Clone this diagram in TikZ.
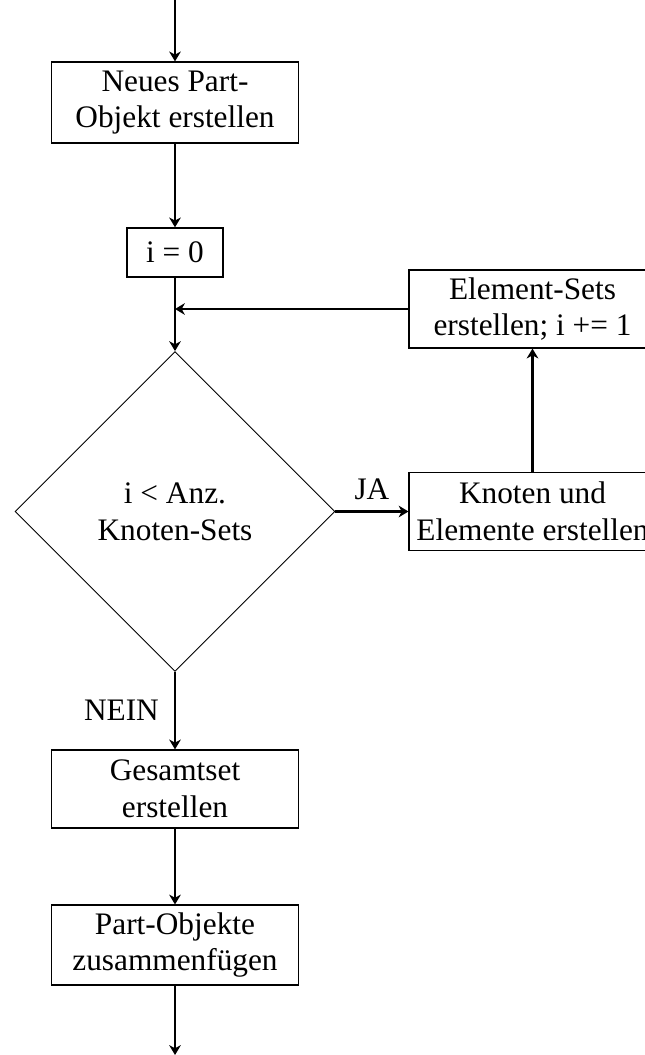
\documentclass[tikz,border=0pt]{standalone}
\usepackage{fontspec}
\setmainfont{Liberation Serif}
\usetikzlibrary{shapes.geometric,arrows.meta}
\begin{document}
\begin{tikzpicture}[x=0.3257pt,y=-0.3257pt,
  font=\fontsize{10.2pt}{12pt}\selectfont,
  stepbox/.style={draw,line width=0.4pt,rectangle,align=center,inner sep=0pt,
    minimum width=80.4pt,minimum height=25.4pt},
  decision/.style={draw,line width=0.3pt,diamond,aspect=1,align=center,inner sep=0pt,
    minimum width=104.2pt,minimum height=104.2pt},
  flow/.style={-{Stealth[length=3.2pt,width=3.8pt,inset=1pt]},line width=0.85pt}]
\useasboundingbox (0,0) rectangle (645,1055);

% process column
\node[stepbox,minimum height=26.4pt] (neu) at (175,102.5) {Neues Part-\\Objekt erstellen};
\node[stepbox,minimum width=31.3pt,minimum height=16pt] (init) at (175,252.5) {i = 0};
\node[decision] (cond) at (175,511.5) {i < Anz.\\Knoten-Sets};
\node[stepbox] (gesamt) at (175,789) {Gesamtset\\erstellen};
\node[stepbox,minimum height=26pt] (fuegen) at (175,945) {Part-Objekte\\zusammenfügen};

% loop body
\node[stepbox] (knoten) at (532.5,511.5) {Knoten und\\Elemente erstellen};
\node[stepbox] (esets) at (532.5,309) {Element-Sets\\erstellen; i += 1};

\coordinate (start) at (175,0);
\coordinate (ende) at (175,1055);
\coordinate (join) at (init |- esets);

% connectors
\draw[flow] (start) -- (neu);
\draw[flow] (neu) -- (init);
\draw[flow] (init) -- (cond);
\draw[flow] (esets.west) -- (join);
\draw[flow] (cond.east) -- node[above] {JA} (knoten.west);
\draw[flow] (knoten) -- (esets);
\draw[flow] (cond.south) -- node[left,xshift=-1.5pt] {NEIN} (gesamt);
\draw[flow] (gesamt) -- (fuegen);
\draw[flow] (fuegen) -- (ende);
\end{tikzpicture}
\end{document}
